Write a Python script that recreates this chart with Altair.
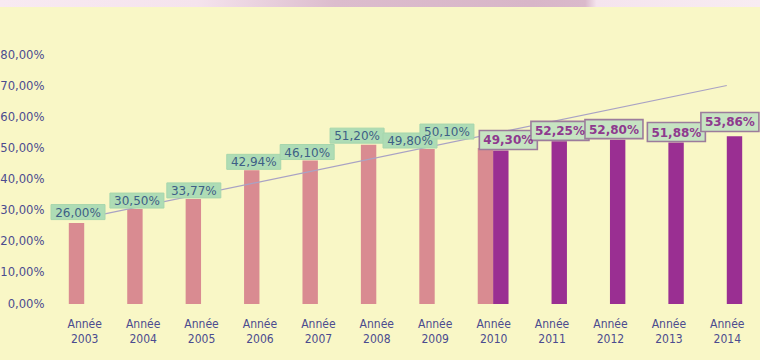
import altair as alt
import pandas as pd

# ---- data -------------------------------------------------------------
years = list(range(2003, 2015))

pink_years = years[:8]
pink_values = [26.00, 30.50, 33.77, 42.94, 46.10, 51.20, 49.80, 50.10]

purple_years = years[7:]
purple_values = [49.30, 52.25, 52.80, 51.88, 53.86]

trend_years = [2003, 2014]
trend_values = [27.6, 70.2]

y_ticks = [0, 10, 20, 30, 40, 50, 60, 70, 80]

# ---- layout / style ---------------------------------------------------
PLOT_W, PLOT_H = 701, 249
Y_MAX = 80
STEP = PLOT_W / len(years)          # pixels per year
BAR_W = 15.4
PX_PER_UNIT = PLOT_H / Y_MAX

BG = "#f9f7c6"
PINK = "#d98b91"
PURPLE = "#9a2f92"
AXIS_TXT = "#4b4b8f"
NARROW = "'Liberation Sans Narrow', 'DejaVu Sans Condensed', 'Roboto Condensed', 'Liberation Sans', sans-serif"

# label placement (dx, dy in pixels from the top centre of each bar)
label_nudge = {
    ("a", 2003): (1.5, -11.0), ("a", 2004): (2.0, -8.5),
    ("a", 2005): (0.5, -8.5), ("a", 2006): (2.0, -8.5),
    ("a", 2007): (-3.0, -8.5), ("a", 2008): (-11.5, -9.0),
    ("a", 2009): (-17.0, -8.5), ("a", 2010): (-38.5, -16.5),
    ("b", 2010): (7.5, -10.6), ("b", 2011): (0.7, -10.5),
    ("b", 2012): (-3.7, -10.5), ("b", 2013): (0.3, -10.5),
    ("b", 2014): (-4.6, -14.4),
}

bars = pd.DataFrame({
    "year": pink_years + purple_years,
    "series": ["a"] * len(pink_years) + ["b"] * len(purple_years),
    "val": pink_values + purple_values,
})
# pink bars sit left of the year, purple bars right of it
bars["px"] = bars["year"] + bars["series"].map({"a": -1, "b": 1}) * (BAR_W / 2) / STEP

rows = []
for yr, s, v, bx in zip(bars["year"], bars["series"], bars["val"], bars["px"]):
    dx, dy = label_nudge[(s, yr)]
    rows.append({
        "series": s,
        "px": bx + dx / STEP,
        "val": v - dy / PX_PER_UNIT,
        "text": f"{v:.2f}".replace(".", ",") + "%",
    })
labels = pd.DataFrame(rows)

trend = pd.DataFrame({"px": trend_years, "val": trend_values})

# ---- layers ------------------------------------------------------------
bar_layer = alt.Chart(bars).mark_bar(width=BAR_W).encode(
    color=alt.Color("series:N", scale=alt.Scale(domain=["a", "b"], range=[PINK, PURPLE]), legend=None),
)

trend_layer = alt.Chart(trend).mark_line(color="#a9a2c4", strokeWidth=1.2)


def label_layers(series, box_w, box_h, fill, stroke, stroke_w, txt_color, weight):
    h = box_h / box_w
    path = f"M-1,-{h:.3f}L1,-{h:.3f}L1,{h:.3f}L-1,{h:.3f}Z"
    sub = labels[labels["series"] == series]
    box = alt.Chart(sub).mark_point(
        shape=path, size=box_w ** 2, filled=True, opacity=1,
        fill=fill, stroke=stroke, strokeWidth=stroke_w,
    )
    txt = alt.Chart(sub).mark_text(
        font="DejaVu Sans", fontSize=12, fontWeight=weight, color=txt_color,
        align="center", baseline="middle", dy=0.5,
    ).encode(text="text:N")
    return [box, txt]


pink_labels = label_layers("a", 54, 15, "#aedcb5", "#a6d6ad", 1, "#3e5f86", "normal")
purple_labels = label_layers("b", 58, 19, "#c6e4c2", "#9c7c9c", 1.6, "#8e3a8e", "bold")

# decorative band along the top edge
band = alt.Chart(pd.DataFrame({"px": [2003], "val": [0]})).mark_rect(
    fill=alt.Gradient(
        gradient="linear", x1=0, x2=1, y1=0, y2=0,
        stops=[
            alt.GradientStop(color="#f8eaf2", offset=0),
            alt.GradientStop(color="#f5e3ed", offset=0.26),
            alt.GradientStop(color="#dcbccd", offset=0.44),
            alt.GradientStop(color="#d8b6c8", offset=0.7),
            alt.GradientStop(color="#dab9cb", offset=0.77),
            alt.GradientStop(color="#f5e4ee", offset=0.785),
            alt.GradientStop(color="#f8ecf2", offset=1),
        ],
    )
).encode(
    x=alt.value(-55), x2=alt.value(PLOT_W + 4),
    y=alt.value(-55), y2=alt.value(-48),
)

# shared position encodings (one scale, one axis per channel)
chart = alt.layer(
    bar_layer, trend_layer, *pink_labels, *purple_labels, band
).encode(
    x=alt.X(
        "px:Q",
        scale=alt.Scale(domain=[2002.5, 2014.5], nice=False, zero=False, padding=0),
        axis=alt.Axis(
            title=None, values=years, labelAngle=0, ticks=False, domain=False, grid=False,
            labelExpr="['Année', toString(datum.value)]",
            labelFont=NARROW, labelFontSize=12,
            labelColor=AXIS_TXT, labelLineHeight=15, labelPadding=14,
            labelOverlap=False,
        ),
    ),
    y=alt.Y(
        "val:Q",
        scale=alt.Scale(domain=[0, Y_MAX], nice=False, zero=True, padding=0),
        axis=alt.Axis(
            title=None, values=y_ticks, grid=False, ticks=False, domain=False,
            labelExpr="replace(format(datum.value, '.2f'), '.', ',') + '%'",
            labelFont="DejaVu Sans", labelFontSize=11.6, labelColor=AXIS_TXT,
            labelPadding=11,
        ),
    ),
).properties(
    width=PLOT_W, height=PLOT_H,
    padding={"left": 55, "top": 55, "right": 4, "bottom": 56},
    autosize=alt.AutoSizeParams(type="none"),
    background=BG,
).configure_view(stroke=None)

chart.save("out.html", embed_options={"renderer": "svg", "actions": False})
